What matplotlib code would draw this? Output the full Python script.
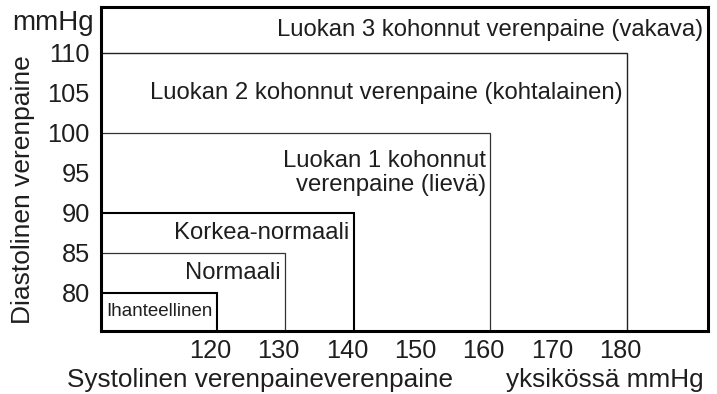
import matplotlib
matplotlib.use("Agg")
import matplotlib.pyplot as plt
import matplotlib.transforms as mtransforms

plt.rcParams['font.family'] = ['Liberation Sans', 'DejaVu Sans']

# Blood pressure classes: upper systolic / diastolic limits (mmHg)
categories = [
    "Ihanteellinen",
    "Normaali",
    "Korkea-normaali",
    "Luokan 1 kohonnut\nverenpaine (lievä)",
    "Luokan 2 kohonnut verenpaine (kohtalainen)",
    "Luokan 3 kohonnut verenpaine (vakava)",
]
systolic_limits = [120, 130, 140, 160, 180]
diastolic_limits = [80, 85, 90, 100, 110]
x_ticks = [120, 130, 140, 150, 160, 170, 180]
y_ticks = [80, 85, 90, 95, 100, 105, 110]

W, H, DPI = 717, 394, 100
fig = plt.figure(figsize=(W / DPI, H / DPI), dpi=DPI)
ax = fig.add_axes([101 / W, 1 - 331 / H, (708 - 101) / W, (331 - 7) / H])

xmin, xmax = 103.0, 191.85
ymin, ymax = 75.25, 115.75
ax.set_xlim(xmin, xmax)
ax.set_ylim(ymin, ymax)

text_color = "#1e1e1e"
box_widths = [1.5, 0.9, 1.5, 0.9, 1.0]
box_colors = ["black", "#333333", "black", "#333333", "#222222"]

# Nested class boxes anchored to the lower-left corner
for sx, dy, lw, c in zip(systolic_limits, diastolic_limits, box_widths, box_colors):
    ax.plot([xmin, sx, sx], [dy, dy, ymin], color=c, lw=lw, solid_joinstyle="miter")

# Class labels, right-aligned inside each box, centred in its band
rights = systolic_limits + [xmax]
lowers = [ymin] + diastolic_limits
uppers = diastolic_limits + [ymax]
sizes = [13.5, 17.2, 17.2, 17.2, 17.2, 17.2]
for name, xr, lo, hi, fs in zip(categories, rights, lowers, uppers, sizes):
    ax.annotate(name, xy=(xr, (lo + hi) / 2), xytext=(-3.2, 0),
                textcoords="offset points", ha="right", va="center",
                fontsize=fs, color=text_color, linespacing=1.15)

for side in ax.spines.values():
    side.set_linewidth(2.2)
    side.set_color("black")

ax.set_xticks(x_ticks)
ax.set_yticks(y_ticks)
ax.tick_params(length=0, labelsize=18.3, labelcolor=text_color)
ax.tick_params(axis="y", pad=8)
ax.tick_params(axis="x", pad=6)
shift = mtransforms.ScaledTranslation(-5 / 72, 0, fig.dpi_scale_trans)
for lab in ax.get_xticklabels():
    lab.set_transform(lab.get_transform() + shift)

# Axis titles
fig.text(23 / W, 1 - 190 / H, "Diastolinen verenpaine", rotation=90,
         ha="center", va="center", fontsize=19, color=text_color)
fig.text(94 / W, 1 - 30 / H, "mmHg", ha="right", va="baseline",
         fontsize=20, color=text_color)
fig.text(260 / W, 1 - 380 / H, "Systolinen verenpaineverenpaine",
         ha="center", va="center", fontsize=18.8, color=text_color)
fig.text(704 / W, 1 - 380 / H, "yksikössä mmHg",
         ha="right", va="center", fontsize=18.8, color=text_color)

fig.savefig("out.png", dpi=DPI)
